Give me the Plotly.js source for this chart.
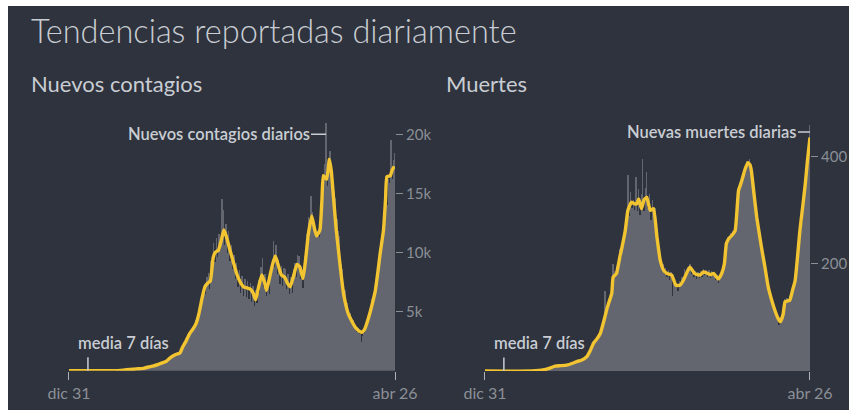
<!DOCTYPE html>
<html>
<head>
<meta charset="utf-8">
<script src="https://cdn.plot.ly/plotly-3.0.1.min.js"></script>
<style>
  html, body { margin: 0; padding: 0; background: #ffffff; width: 851px; height: 410px; overflow: hidden; }
  #chart { position: absolute; left: 8px; top: 6px; width: 841px; height: 404px; }
</style>
</head>
<body>
<div id="chart"></div>
<script>
// ---- Data (days counted from 31 Dec 2019) ----
const xTickDays = [0, 482];
const xTickLabels = ['dic 31', 'abr 26'];
const barStepDays = 2; // each bar covers 2 days

// Daily new cases (thousands), one value per 2-day bar
const casesBars = [
  0,0,0,0,0,0,0,0,0,0,
  0,0,0,0,0,0,0,0,0,0,
  0,0,0,0,0,0,0,0,0,0,
  0,0,0,0.01,0.01,0.02,0.03,0.03,0.04,0.05,
  0.06,0.08,0.09,0.1,0.1,0.11,0.12,0.14,0.15,0.15,
  0.16,0.18,0.2,0.22,0.25,0.24,0.28,0.3,0.33,0.35,
  0.37,0.4,0.42,0.5,0.45,0.55,0.6,0.65,0.62,0.7,
  0.75,0.8,0.85,1.0,1.1,1.2,1.25,1.3,1.4,1.45,
  1.4,1.6,1.5,2.0,2.2,2.2,2.8,2.7,3.1,3.4,
  3.2,3.6,3.5,3.9,4.3,4.1,5.0,5.2,6.1,6.8,
  7.3,6.5,7.9,8.3,6.9,9.3,9.0,10.8,9.2,11.2,
  9.6,11.6,10.2,14.5,13.6,10.6,12.4,10.0,11.8,9.3,
  10.6,8.6,9.8,7.8,9.1,7.1,8.5,6.6,8.0,6.3,
  7.8,6.2,7.6,6.1,7.4,5.8,7.2,5.5,6.8,5.7,
  7.7,6.6,8.8,9.5,7.1,8.2,6.3,7.5,6.5,8.4,
  9.0,11.0,8.8,10.6,8.2,9.4,7.3,8.9,7.2,8.7,
  8.6,6.9,8.2,6.5,7.9,6.6,8.6,9.1,7.9,9.8,
  9.7,7.8,8.9,7.0,9.7,8.8,11.6,13.0,11.2,14.8,
  13.4,12.4,12.2,11.6,11.8,11.3,13.0,13.6,15.9,17.5,
  21.0,15.6,18.0,18.6,16.4,17.0,15.2,14.6,12.8,11.8,
  11.4,9.0,8.6,7.2,6.8,5.6,5.7,4.8,4.9,4.0,
  4.3,3.6,3.9,3.3,3.6,3.1,2.4,2.9,3.2,3.7,
  4.2,4.1,5.2,5.0,6.1,6.0,7.2,7.3,8.8,8.7,
  10.4,10.2,12.0,12.0,14.2,14.0,16.2,15.9,19.5,16.2,
  17.8,18.4
];

// 7-day average of new cases (thousands), read at these days
const casesAvgDays = [0,60,70,80,90,100,110,120,125,135,144,150,157,164,168,173,178,183,188,192,197,201,205,209,213,216,221,225,229,233,238,243,248,253,258,263,268,272,276,280,285,289,292,297,301,305,309,314,319,323,327,332,337,341,346,350,354,359,363,366,371,374,376,381,385,388,391,395,398,402,406,410,413,418,423,428,433,437,440,445,449,453,457,460,465,468,470,475,478,481];
const casesAvg = [0,0,0.01,0.05,0.1,0.15,0.2,0.35,0.4,0.6,0.8,1.1,1.35,1.5,2.0,2.5,3.1,3.5,4.0,4.8,6.2,7.1,7.4,7.6,9.5,10.0,10.2,11.0,11.9,11.3,10.2,9.2,8.2,7.5,7.1,7.0,6.9,6.6,6.0,7.0,8.1,7.5,6.8,8.0,9.0,9.7,9.0,8.1,7.9,7.4,7.1,8.0,9.0,8.8,7.8,9.5,11.6,13.1,12.0,11.4,11.9,14.5,16.5,16.2,17.9,16.8,14.7,12.0,10.4,8.3,6.5,5.4,4.8,4.2,3.7,3.4,3.25,3.5,3.95,4.9,5.8,6.8,8.5,9.9,11.9,14.5,16.4,16.5,17.0,17.3];

// Daily new deaths, one value per 2-day bar
const deathsBars = [
  0,0,0,0,0,0,0,0,0,0,
  0,0,0,0,0,0,0,0,0,0,
  0,0,0,0,0,0,0,0,0,0,
  0,0,0,0,0,0,1,1,1,1,
  1,2,2,2,3,3,4,6,5,7,
  8,9,8,10,11,9,10,12,10,11,
  11,13,12,14,15,14,17,16,19,18,
  20,19,22,25,24,28,30,35,40,45,
  52,50,60,58,68,66,78,80,96,150,
  118,115,134,140,148,200,186,178,196,200,
  228,212,245,258,270,282,365,290,335,305,
  320,300,362,298,340,292,330,395,298,342,
  372,305,330,282,320,292,305,255,265,218,
  215,195,200,182,192,176,188,170,184,140,
  176,158,165,150,168,158,175,172,190,180,
  195,188,200,182,190,176,186,172,185,174,
  186,176,190,180,188,175,188,174,186,178,
  185,170,180,165,178,175,190,200,220,245,
  250,242,258,248,262,255,270,300,315,352,
  360,355,375,370,392,385,395,380,365,340,
  325,295,290,262,260,235,230,205,198,165,
  160,142,140,122,120,108,110,96,85,88,
  102,108,135,125,136,128,140,142,160,158,
  175,190,225,235,270,278,315,322,355,395,
  420,460
];

// 7-day average of new deaths, read at these days
const deathsAvgDays = [0,70,80,86,95,104,112,121,131,137,143,151,156,161,166,171,176,181,183,188,190,195,200,203,208,212,217,222,225,228,232,236,240,245,250,255,260,265,270,277,283,289,294,301,304,311,319,324,329,334,339,346,351,355,358,362,366,371,376,380,383,386,390,393,395,399,403,410,415,420,425,430,434,438,442,445,449,452,456,460,464,467,471,475,478,482];
const deathsAvg = [0,0,1,2,5,9,10,11,15,18,20,27,38,52,60,70,92,117,125,145,175,182,213,230,262,300,315,312,312,321,303,320,324,300,303,250,206,188,182,179,160,160,169,188,194,182,179,185,183,180,182,172,182,200,238,248,253,262,337,352,365,378,389,385,374,330,287,231,195,157,133,113,100,92,105,129,131,132,150,169,220,262,305,349,390,436];

// Axis ticks
const casesTickVals = [5000, 10000, 15000, 20000];
const casesTickText = ['5k', '10k', '15k', '20k'];
const deathsTickVals = [200, 400];
const deathsTickText = ['200', '400'];

// Text
const mainTitle = 'Tendencias reportadas diariamente';
const leftTitle = 'Nuevos contagios';
const rightTitle = 'Muertes';
const casesLabel = 'Nuevos contagios diarios';
const deathsLabel = 'Nuevas muertes diarias';
const avgLabel = 'media 7 días';
const avgLabelDay = 28;

// ---- Build ----
const barX = (arr) => arr.map((_, i) => i * barStepDays);
const casesBarsAbs = casesBars.map(v => v * 1000);
const casesAvgAbs = casesAvg.map(v => v * 1000);

const BG = '#2e333d';
const BAR = '#63666e';
const YEL = '#f2c431';
const TXT = '#c9cdd3';
const TICK = '#8b8f96';
const FONT = 'Lato, "Open Sans", sans-serif';

const traces = [
  { type: 'bar', x: barX(casesBarsAbs), y: casesBarsAbs, width: barStepDays, marker: { color: BAR, line: { width: 0 } }, xaxis: 'x', yaxis: 'y', hoverinfo: 'skip' },
  { type: 'scatter', mode: 'lines', x: casesAvgDays, y: casesAvgAbs, line: { color: YEL, width: 3.4, shape: 'spline', smoothing: 0.4 }, xaxis: 'x', yaxis: 'y', hoverinfo: 'skip', cliponaxis: false },
  { type: 'bar', x: barX(deathsBars), y: deathsBars, width: barStepDays, marker: { color: BAR, line: { width: 0 } }, xaxis: 'x2', yaxis: 'y2', hoverinfo: 'skip' },
  { type: 'scatter', mode: 'lines', x: deathsAvgDays, y: deathsAvg, line: { color: YEL, width: 3.4, shape: 'spline', smoothing: 0.4 }, xaxis: 'x2', yaxis: 'y2', hoverinfo: 'skip', cliponaxis: false }
];

const xCommon = {
  range: [0, 482], tickmode: 'array', tickvals: xTickDays, ticktext: xTickLabels,
  ticks: 'outside', ticklen: 8, tickwidth: 1, tickcolor: '#aeb2b8',
  tickfont: { family: FONT, size: 16, color: TICK },
  showgrid: false, zeroline: false, showline: false, fixedrange: true
};
const yCommon = {
  side: 'right', ticks: 'outside', ticklen: 7, tickwidth: 1, tickcolor: TICK,
  tickfont: { family: FONT, size: 15, color: TICK },
  showgrid: false, zeroline: false, showline: false, fixedrange: true, tickmode: 'array'
};

const annFont = { family: FONT, size: 16.5, color: TXT, weight: 600 };

const layout = {
  width: 841, height: 404,
  paper_bgcolor: BG, plot_bgcolor: BG,
  margin: { l: 0, r: 0, t: 0, b: 0 },
  showlegend: false, bargap: 0,
  xaxis: Object.assign({}, xCommon, { domain: [0.07253, 0.46017], anchor: 'y' }),
  yaxis: Object.assign({}, yCommon, { domain: [0.0973, 0.7262], range: [0, 21500], tickvals: casesTickVals, ticktext: casesTickText, anchor: 'x' }),
  xaxis2: Object.assign({}, xCommon, { domain: [0.56718, 0.95363], anchor: 'y2' }),
  yaxis2: Object.assign({}, yCommon, { domain: [0.0965, 0.7131], range: [0, 465], tickvals: deathsTickVals, ticktext: deathsTickText, anchor: 'x2' }),
  annotations: [
    { xref: 'paper', yref: 'paper', x: 0.025, y: 0.94, xanchor: 'left', yanchor: 'middle', showarrow: false, text: mainTitle, font: { family: FONT, size: 32.5, color: TXT, weight: 300 } },
    { xref: 'paper', yref: 'paper', x: 0.025, y: 0.807, xanchor: 'left', yanchor: 'middle', showarrow: false, text: leftTitle, font: { family: FONT, size: 22, color: TXT, weight: 400 } },
    { xref: 'paper', yref: 'paper', x: 0.5185, y: 0.807, xanchor: 'left', yanchor: 'middle', showarrow: false, text: rightTitle, font: { family: FONT, size: 22, color: TXT, weight: 400 } },
    // peak labels with short leader
    { xref: 'x', yref: 'y', x: 380, y: 20000, ax: -15, ay: 0, xanchor: 'right', yanchor: 'middle', showarrow: true, arrowhead: 0, arrowwidth: 1.5, arrowcolor: TXT, text: casesLabel, font: annFont, borderpad: 0 },
    { xref: 'x2', yref: 'y2', x: 482, y: 446, ax: -12, ay: 0, xanchor: 'right', yanchor: 'middle', showarrow: true, arrowhead: 0, arrowwidth: 1.5, arrowcolor: TXT, text: deathsLabel, font: annFont, borderpad: 0 },
    // 7-day average labels
    { xref: 'x', yref: 'y', x: avgLabelDay, y: 0, ax: 0, ay: -15, showarrow: true, arrowhead: 0, arrowwidth: 1.5, arrowcolor: TXT, text: '' },
    { xref: 'x', yref: 'y', x: avgLabelDay, y: 0, xanchor: 'left', yanchor: 'bottom', xshift: -12, yshift: 16, showarrow: false, text: avgLabel, font: annFont },
    { xref: 'x2', yref: 'y2', x: avgLabelDay, y: 0, ax: 0, ay: -15, showarrow: true, arrowhead: 0, arrowwidth: 1.5, arrowcolor: TXT, text: '' },
    { xref: 'x2', yref: 'y2', x: avgLabelDay, y: 0, xanchor: 'left', yanchor: 'bottom', xshift: -12, yshift: 16, showarrow: false, text: avgLabel, font: annFont }
  ]
};

Plotly.newPlot('chart', traces, layout, { staticPlot: true, displayModeBar: false });
</script>
</body>
</html>
